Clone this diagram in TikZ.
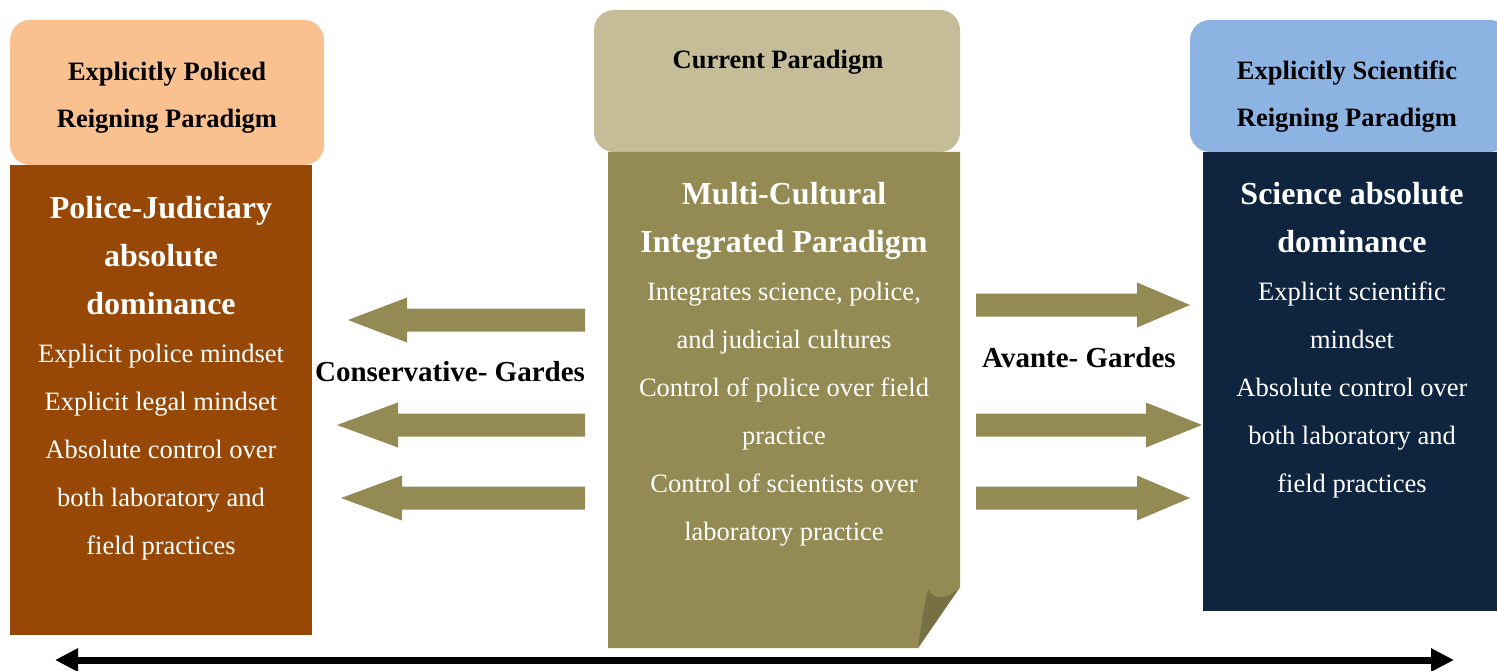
\documentclass[tikz,border=0pt]{standalone}
\usepackage{fontspec}
\setmainfont{Liberation Serif}
\usetikzlibrary{arrows.meta}
\definecolor{peach}{HTML}{F9C090}
\definecolor{rust}{HTML}{974706}
\definecolor{khaki}{HTML}{C4BD97}
\definecolor{olive}{HTML}{948A54}
\definecolor{olivedark}{HTML}{777044}
\definecolor{skyblue}{HTML}{8DB3E2}
\definecolor{navy}{HTML}{0F243E}
\tikzset{
  hdrbox/.style={rounded corners=20pt},
  hdrtext/.style={align=center, inner sep=0pt, font=\fontsize{26.5}{47}\selectfont\bfseries},
  bodytext/.style={align=center, inner sep=0pt, text=white, anchor=north, font=\fontsize{26.5}{48}\selectfont},
  gardetext/.style={inner sep=0pt, font=\fontsize{29}{34}\selectfont\bfseries},
}
\newcommand{\ttl}[1]{{\fontsize{32}{48}\selectfont\bfseries #1}}
\begin{document}
\begin{tikzpicture}[x=1pt,y=-1pt]
  \useasboundingbox (0,0) rectangle (1497,671);
  % header boxes
  \fill[peach, hdrbox] (10,20) rectangle (324,165);
  \fill[khaki, hdrbox] (594,10) rectangle (960,152);
  \fill[skyblue, hdrbox] (1190,20) rectangle (1510,152);
  % bodies
  \fill[rust] (10,165) rectangle (312,635);
  \fill[olive] (608,152) -- (960,152) -- (960,587) -- (918,648) -- (608,648) -- cycle;
  \fill[olivedark] (918,648) .. controls (922,620) and (925,602) .. (928,589)
        .. controls (933,600) and (948,601) .. (960,587) -- cycle;  % curled corner
  \fill[navy] (1203,152) rectangle (1497,611);

  % header texts
  \node[hdrtext] (policehdr) at (167,97.5) {Explicitly Policed\\Reigning Paradigm};
  \node[hdrtext] (currenthdr) at (778,62) {Current Paradigm};
  \node[hdrtext] (sciencehdr) at (1347,96.5) {Explicitly Scientific\\Reigning Paradigm};

  % body texts
  \node[bodytext] (policetxt) at (161,196) {\ttl{Police-Judiciary}\\\ttl{absolute}\\\ttl{dominance}\\
        Explicit police mindset\\Explicit legal mindset\\Absolute control over\\both laboratory and\\field practices};
  \node[bodytext] (currenttxt) at (784,182) {\ttl{Multi-Cultural}\\\ttl{Integrated Paradigm}\\
        Integrates science, police,\\and judicial cultures\\Control of police over field\\practice\\
        Control of scientists over\\laboratory practice};
  \node[bodytext] (sciencetxt) at (1352,182) {\ttl{Science absolute}\\\ttl{dominance}\\
        Explicit scientific\\mindset\\Absolute control over\\both laboratory and\\field practices};

  % block arrows
  \foreach \tipx/\backx/\y in {348/407/320, 337/398/425, 341/402/498}
    \fill[olive] (585,{\y-11.5}) -- (\backx,{\y-11.5}) -- (\backx,{\y-22.5}) -- (\tipx,\y)
        -- (\backx,{\y+22.5}) -- (\backx,{\y+11.5}) -- (585,{\y+11.5}) -- cycle;
  \foreach \backx/\tipx/\y in {1137/1190/305, 1146/1202/425, 1137/1190/498}
    \fill[olive] (976,{\y-11.5}) -- (\backx,{\y-11.5}) -- (\backx,{\y-22.5}) -- (\tipx,\y)
        -- (\backx,{\y+22.5}) -- (\backx,{\y+11.5}) -- (976,{\y+11.5}) -- cycle;

  \node[gardetext] (conservative) at (450,372) {Conservative- Gardes};
  \node[gardetext] (avante) at (1079,358) {Avante- Gardes};

  % bottom axis
  \coordinate (axisleft) at (55,660);
  \coordinate (axisright) at (1454,660);
  \draw[line width=7pt, {Triangle[length=23pt,width=22pt]}-{Triangle[length=23pt,width=22pt]}] (axisleft) -- (axisright);
\end{tikzpicture}
\end{document}
